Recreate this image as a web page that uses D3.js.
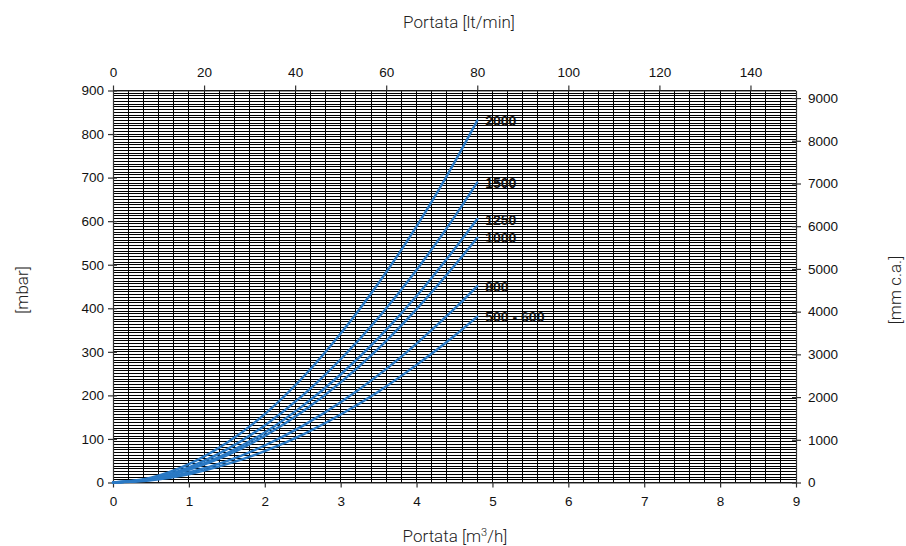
<!DOCTYPE html>
<html>
<head>
<meta charset="utf-8">
<script src="https://cdn.jsdelivr.net/npm/d3@7"></script>
<style>
  body { margin: 0; background: #fff; }
  svg { display: block; }
</style>
</head>
<body>
<div id="canvas"></div>
<script>
"use strict"

// flow in m3/h where the curves were read
let flowPoints = [0, 0.5, 1, 1.5, 2, 2.5, 3, 3.5, 4, 4.5, 4.8];

// pressure drop in mbar
let seriesNames = ["2000", "1500", "1250", "1000", "800", "500 - 600"];
let seriesValues = [
    [0, 11, 42, 91, 157, 241, 342, 458, 588, 735, 831],
    [0, 9, 35, 76, 131, 200, 283, 379, 488, 610, 689],
    [0, 8, 31, 67, 115, 176, 248, 332, 428, 536, 605],
    [0, 8, 29, 62, 107, 163, 230, 308, 398, 498, 562],
    [0, 6, 23, 49, 85, 130, 184, 247, 319, 399, 451],
    [0, 5, 19, 42, 72, 110, 156, 209, 270, 337, 381]
];

let bottomTicks = [0, 1, 2, 3, 4, 5, 6, 7, 8, 9];
let topTicks = [0, 20, 40, 60, 80, 100, 120, 140];
let leftTicks = [0, 100, 200, 300, 400, 500, 600, 700, 800, 900];
let rightTicks = [0, 1000, 2000, 3000, 4000, 5000, 6000, 7000, 8000, 9000];

let svgWidth = 906, svgHeight = 546;
let plotLeft = 113, plotRight = 796, plotTop = 90.5, plotBottom = 482.5;

let drawing = d3.select("#canvas")
    .append("svg")
    .attr("width", svgWidth)
    .attr("height", svgHeight);

let xScale = d3.scaleLinear().domain([0, 9]).range([plotLeft, plotRight]);
let xTopScale = d3.scaleLinear().domain([0, 150]).range([plotLeft, plotRight]);
let yScale = d3.scaleLinear().domain([0, 900]).range([plotBottom, plotTop]);
// 1 mbar = 10.197 mm c.a.
let yRightScale = d3.scaleLinear().domain([0, 900 * 10.197]).range([plotBottom, plotTop]);

/* grid: every 0.2 m3/h and 16 lines per 100 mbar */
let gridX = d3.range(0, 9.0001, 0.2);
let gridY = d3.range(0, 900.001, 6.25);

drawing.append("g")
    .attr("shape-rendering", "crispEdges")
    .selectAll("line")
    .data(gridY)
    .join("line")
    .attr("x1", plotLeft)
    .attr("x2", plotRight)
    .attr("y1", d => yScale(d))
    .attr("y2", d => yScale(d))
    .attr("stroke", "#000")
    .attr("stroke-width", 1);

drawing.append("g")
    .attr("shape-rendering", "crispEdges")
    .selectAll("line")
    .data(gridX)
    .join("line")
    .attr("x1", d => xScale(d))
    .attr("x2", d => xScale(d))
    .attr("y1", plotTop)
    .attr("y2", plotBottom)
    .attr("stroke", "#000")
    .attr("stroke-width", 1);

/* axes */
let tickFont = "'Liberation Sans', Arial, sans-serif";

function styleAxis(g) {
    g.select(".domain").attr("stroke", "#333").attr("stroke-width", 1.2);
    g.selectAll(".tick line").attr("stroke", "#333").attr("stroke-width", 1.2);
    g.selectAll(".tick text")
        .attr("font-family", tickFont)
        .attr("font-size", 13.5)
        .attr("fill", "#111");
}

drawing.append("g")
    .attr("transform", `translate(0,${plotBottom})`)
    .call(d3.axisBottom(xScale).tickValues(bottomTicks).tickSize(5).tickPadding(9).tickSizeOuter(0))
    .call(styleAxis);

drawing.append("g")
    .attr("transform", `translate(0,${plotTop})`)
    .call(d3.axisTop(xTopScale).tickValues(topTicks).tickSize(5).tickPadding(9).tickSizeOuter(0))
    .call(styleAxis);

let leftAxis = drawing.append("g")
    .attr("transform", `translate(${plotLeft},0)`)
    .call(d3.axisLeft(yScale).tickValues(leftTicks).tickSize(5).tickPadding(4).tickSizeOuter(0))
    .call(styleAxis);
leftAxis.selectAll(".tick line").attr("x2", -5).attr("x1", 4);

let rightAxis = drawing.append("g")
    .attr("transform", `translate(${plotRight},0)`)
    .call(d3.axisRight(yRightScale).tickValues(rightTicks).tickFormat(d3.format("d"))
        .tickSize(5).tickPadding(7).tickSizeOuter(0))
    .call(styleAxis);
rightAxis.selectAll(".tick line").attr("x1", -4).attr("x2", 5);

/* curves */
let line = d3.line()
    .x(d => xScale(d[0]))
    .y(d => yScale(d[1]))
    .curve(d3.curveMonotoneX);

seriesValues.forEach((values, i) => {
    let pts = flowPoints.map((f, j) => [f, values[j]]);
    drawing.append("path")
        .attr("d", line(pts))
        .attr("fill", "none")
        .attr("stroke", "#2a79c4")
        .attr("stroke-width", 2.4)
        .attr("stroke-linecap", "round");

    let last = pts[pts.length - 1];
    drawing.append("text")
        .attr("x", xScale(last[0]) + 8)
        .attr("y", yScale(last[1]) + 2)
        .attr("dominant-baseline", "middle")
        .attr("font-family", tickFont)
        .attr("font-weight", "bold")
        .attr("font-size", 14)
        .attr("fill", "#111")
        .text(seriesNames[i]);
});

/* axis titles */
let titleFont = "Roboto, sans-serif";

drawing.append("text")
    .attr("x", 459)
    .attr("y", 28)
    .attr("text-anchor", "middle")
    .attr("font-family", titleFont)
    .attr("font-weight", 300)
    .attr("font-size", 17)
    .attr("fill", "#222")
    .text("Portata [lt/min]");

let bottomTitle = drawing.append("text")
    .attr("x", 455)
    .attr("y", 542)
    .attr("text-anchor", "middle")
    .attr("font-family", titleFont)
    .attr("font-weight", 300)
    .attr("font-size", 17)
    .attr("fill", "#222");
bottomTitle.append("tspan").text("Portata [m");
bottomTitle.append("tspan").attr("font-size", 11).attr("dy", -6).text("3");
bottomTitle.append("tspan").attr("dy", 6).text("/h]");

drawing.append("text")
    .attr("transform", "translate(28,290) rotate(-90)")
    .attr("text-anchor", "middle")
    .attr("font-family", titleFont)
    .attr("font-weight", 300)
    .attr("font-size", 17)
    .attr("fill", "#222")
    .text("[mbar]");

drawing.append("text")
    .attr("transform", "translate(901,290) rotate(-90)")
    .attr("text-anchor", "middle")
    .attr("font-family", titleFont)
    .attr("font-weight", 300)
    .attr("font-size", 17)
    .attr("fill", "#222")
    .text("[mm c.a.]");
</script>
</body>
</html>
